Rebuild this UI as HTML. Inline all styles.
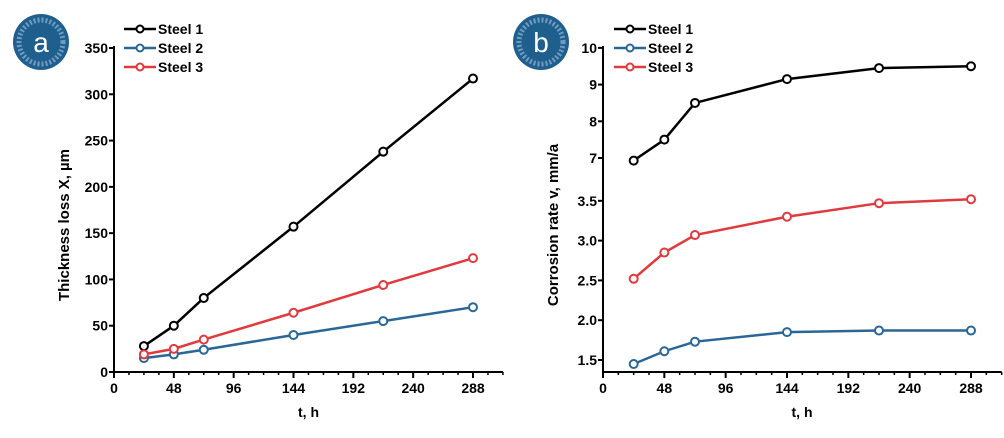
<!DOCTYPE html>
<html><head><meta charset="utf-8"><style>
body{margin:0;background:#fff;}
svg{display:block;font-family:"Liberation Sans",sans-serif;}
</style></head><body>
<svg id="s" width="1004" height="438"></svg>
<script>
const hours=[24,48,72,144,216,288];
const thickS1=[28,50,80,157,238,317];
const thickS2=[15,19,24,40,55,70];
const thickS3=[19,25,35,64,94,123];
const rateS1=[6.93,7.5,8.5,9.15,9.45,9.5];
const rateS2=[1.45,1.61,1.73,1.85,1.87,1.87];
const rateS3=[2.52,2.85,3.07,3.3,3.47,3.52];
const xTicks=[0,48,96,144,192,240,288];
const yTicksA=[0,50,100,150,200,250,300,350];
const yTicksBLow=["1.5","2.0","2.5","3.0","3.5"];
const yTicksBHigh=["7","8","9","10"];
const seriesNames=["Steel 1","Steel 2","Steel 3"];
const colors=["#000000","#2a6796","#e03a3e"];
const NS="http://www.w3.org/2000/svg";
const svg=document.getElementById('s');
function el(t,a,p){const e=document.createElementNS(NS,t);for(const k in a)e.setAttribute(k,a[k]);(p||svg).appendChild(e);return e;}
function txt(x,y,s,a,p){const e=el('text',Object.assign({x:x,y:y,'font-size':14,'font-weight':'bold',fill:'#000'},a||{}),p);e.textContent=s;return e;}

function panel(name,x0,x288,ybot,ytop,yScale,yTickVals,yTickLabels,ytitle,data,badge,badgeTxt,legendX){
  const g=el('g',{});
  
  
  const xs=v=>x0+(v/288)*(x288-x0);
  const ax=el('line',{x1:x0,y1:ybot,x2:x0,y2:ytop-2,stroke:'#000','stroke-width':2},g);
  
  const bx=el('line',{x1:x0-1,y1:ybot,x2:x0+(x288-x0)*312/288,y2:ybot,stroke:'#000','stroke-width':2},g);
  
  for(let v=0;v<=312;v+=12){
    const major=v%48===0;
    el('line',{x1:xs(v),y1:ybot,x2:xs(v),y2:ybot+(major?6:3),stroke:'#000','stroke-width':major?2:1.5},g);
  }
  xTicks.forEach(v=>{const t=txt(xs(v),ybot+21,String(v),{'text-anchor':'middle'},g);
    });
  yTickVals.forEach((v,i)=>{const y=yScale(v);
    el('line',{x1:x0-5,y1:y,x2:x0,y2:y,stroke:'#000','stroke-width':2},g);
    const t=txt(x0-6,y+5,yTickLabels[i],{'text-anchor':'end'},g);
    });
  const xt=txt((x0+x288)/2+15,ybot+45,'t, h',{'text-anchor':'middle'},g);
  
  const yc=(ybot+ytop)/2+15;
  const yt=txt(0,0,ytitle,{'text-anchor':'middle','font-size':15,transform:`translate(${x0-45},${yc}) rotate(-90)`},g);
  
  data.forEach((d,i)=>{
    const pts=hours.map((h,j)=>xs(h)+','+yScale(d[j])).join(' ');
    const pl=el('polyline',{points:pts,fill:'none',stroke:colors[i],'stroke-width':2.5},g);
    
    hours.forEach((h,j)=>{const c=el('circle',{cx:xs(h),cy:yScale(d[j]),r:4,fill:'#fff',stroke:colors[i],'stroke-width':2},g);
      });
    const ly=29+i*19;
    const lg=el('g',{},g);
    
    el('line',{x1:legendX,y1:ly,x2:legendX+32,y2:ly,stroke:colors[i],'stroke-width':2.5},lg);
    el('circle',{cx:legendX+16,cy:ly,r:3.5,fill:'#fff',stroke:colors[i],'stroke-width':2},lg);
    txt(legendX+34,ly+5,seriesNames[i],{},lg);
  });
  const bg=el('g',{},g);
  
  el('circle',{cx:badge[0],cy:badge[1],r:28,fill:'#1f5f8e'},bg);
  txt(badge[0],badge[1]+10,badgeTxt,{'text-anchor':'middle','font-size':28,'font-weight':'normal',fill:'#fff'},bg);
  el('circle',{cx:badge[0],cy:badge[1],r:22,fill:'none',stroke:'#6f9cc0','stroke-width':5,'stroke-dasharray':'2 2'},bg);
}

const yA=v=>372-v*(324/350);
panel('chart-thickness-loss',114,473,372,48,yA,yTicksA,yTicksA.map(String),'Thickness loss X, µm',[thickS1,thickS2,thickS3],[41,42],'a',124);

const yB=v=>{if(v>=6) return 158-(v-7)*36.7; return 360-(v-1.5)*79.6;};
const bVals=yTicksBLow.map(Number).concat(yTicksBHigh.map(Number));
panel('chart-corrosion-rate',603,971,372,48,yB,bVals,yTicksBLow.concat(yTicksBHigh),'Corrosion rate v, mm/a',[rateS1,rateS2,rateS3],[541,42],'b',614);
</script>
</body></html>
